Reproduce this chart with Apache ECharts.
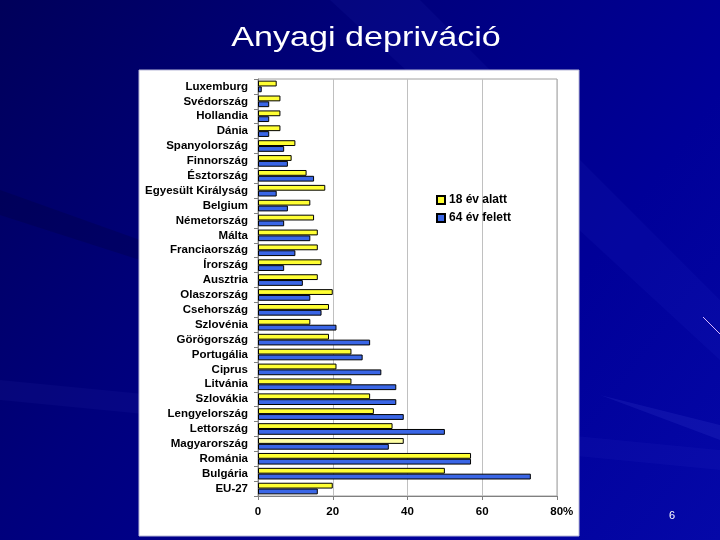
<!DOCTYPE html>
<html>
<head>
<meta charset="utf-8">
<script src="https://cdn.jsdelivr.net/npm/echarts@6/dist/echarts.min.js"></script>
<style>html,body{margin:0;padding:0;background:#000080;}#c{width:720px;height:540px;}</style>
</head>
<body>
<div id="c"></div>
<script>
const categories = ['Luxemburg','Svédország','Hollandia','Dánia','Spanyolország','Finnország','Észtország','Egyesült Királyság','Belgium','Németország','Málta','Franciaország','Írország','Ausztria','Olaszország','Csehország','Szlovénia','Görögország','Portugália','Ciprus','Litvánia','Szlovákia','Lengyelország','Lettország','Magyarország','Románia','Bulgária','EU-27'];
const under18 = [5,6,6,6,10,9,13,18,14,15,16,16,17,16,20,19,14,19,25,21,25,30,31,36,39,57,50,20];
const over64 = [1,3,3,3,7,8,15,5,8,7,14,10,7,12,14,17,21,30,28,33,37,37,39,50,35,57,73,16];
const xTicks = [0,20,40,60,80];
const seriesNames = ['18 év alatt','64 év felett'];
const highlight = 'Magyarország';
const titleText = 'Anyagi depriváció';

const chart = echarts.init(document.getElementById('c'), null, {renderer:'canvas'});
const yellowData = under18.map((v,i)=> categories[i]===highlight ? {value:v, itemStyle:{color:'#ffffa6'}} : v);
const F = 'Liberation Sans, Arial, sans-serif';

chart.setOption({
  backgroundColor: {
    type:'linear', x:0, y:0, x2:1, y2:1,
    colorStops:[{offset:0,color:'#00005a'},{offset:0.35,color:'#00007c'},{offset:0.7,color:'#000098'},{offset:1,color:'#0508a8'}]
  },
  graphic: [
    {type:'polygon', z:-10, silent:true, shape:{points:[[330,0],[420,0],[720,300],[720,360]]}, style:{fill:'rgba(90,110,255,0.06)'}},
    {type:'polygon', z:-10, silent:true, shape:{points:[[0,380],[0,400],[720,470],[720,450]]}, style:{fill:'rgba(110,120,255,0.05)'}},
    {type:'polygon', z:-10, silent:true, shape:{points:[[580,390],[600,395],[720,440],[720,425]]}, style:{fill:'rgba(120,130,255,0.10)'}},
    {type:'polygon', z:-10, silent:true, shape:{points:[[0,190],[0,215],[140,260],[140,240]]}, style:{fill:'rgba(0,0,40,0.2)'}},
    {type:'line', silent:true, shape:{x1:703,y1:317,x2:720,y2:334}, style:{stroke:'#d8b8ff', lineWidth:1}},
    {type:'rect', z:-5, silent:true, shape:{x:139,y:70,width:440,height:466}, style:{fill:'#ffffff', stroke:'#b8b8d8', lineWidth:1}},
    {type:'text', silent:true, x:366, y:38, scaleX:1.22, originX:0, originY:0,
      style:{text:titleText, fill:'#ffffff', font:'28px '+F, align:'center', verticalAlign:'middle'}},
    {type:'text', silent:true, left:669, top:510, style:{text:'6', fill:'#ffffff', font:'11px '+F}}
  ],
  legend: {
    orient:'vertical', left:436, top:194, padding:0, itemWidth:8, itemHeight:8, itemGap:6,
    icon:'rect',
    data: seriesNames,
    textStyle:{color:'#000', fontFamily:F, fontSize:12, fontWeight:'bold', padding:[0,0,0,-1]}
  },
  grid: {left:258, right:163, top:79, bottom:44, show:true, borderColor:'#a0a0a0', borderWidth:1, backgroundColor:'#ffffff'},
  xAxis: {
    type:'value', min:0, max:80, interval:20,
    axisLine:{show:true, lineStyle:{color:'#808080'}},
    axisTick:{show:true, length:4, lineStyle:{color:'#808080'}},
    axisLabel:{color:'#000', fontFamily:F, fontSize:11.5, fontWeight:'bold', margin:10,
      formatter: v => v===80 ? '   80%' : String(v)},
    splitLine:{show:true, lineStyle:{color:'#c0c0c0'}}
  },
  yAxis: {
    type:'category', data:categories, inverse:true,
    axisLine:{show:true, lineStyle:{color:'#808080'}},
    axisTick:{show:true, length:4, lineStyle:{color:'#808080'}},
    axisLabel:{interval:0, color:'#000', fontFamily:F, fontSize:11.5, fontWeight:'bold', margin:10}
  },
  series: [
    {name:seriesNames[0], type:'bar', data:yellowData, barGap:'0%', barCategoryGap:'22%',
      itemStyle:{color:'#ffff33', borderColor:'#000', borderWidth:1}},
    {name:seriesNames[1], type:'bar', data:over64,
      itemStyle:{color:'#3a66e6', borderColor:'#000', borderWidth:1}}
  ]
});
</script>
</body>
</html>
